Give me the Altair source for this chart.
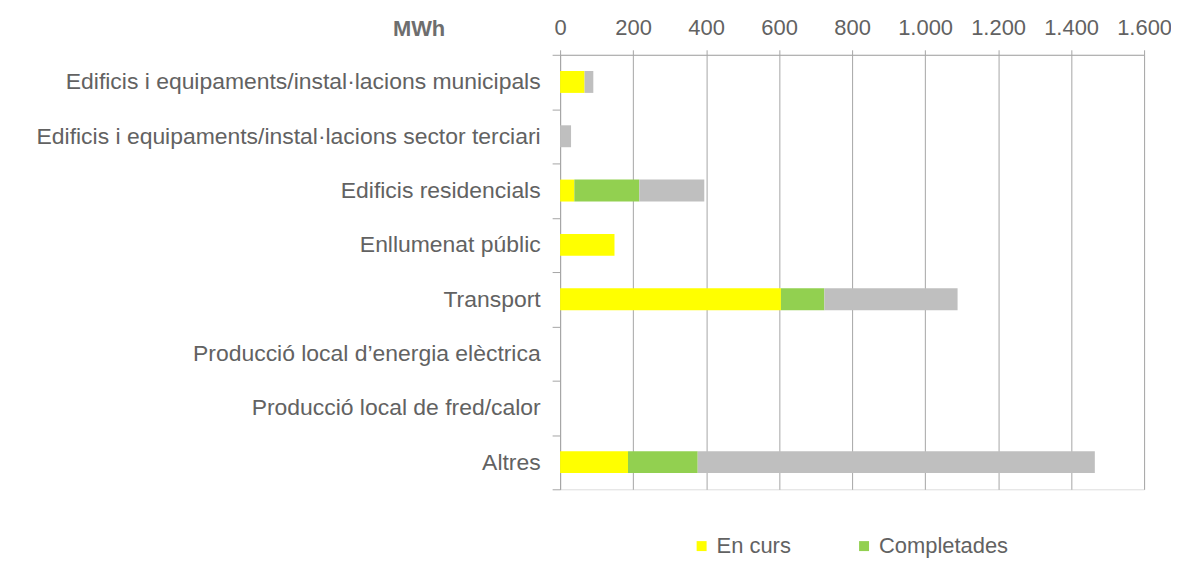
import altair as alt
import pandas as pd

categories = [
    "Edificis i equipaments/instal·lacions municipals",
    "Edificis i equipaments/instal·lacions sector terciari",
    "Edificis residencials",
    "Enllumenat públic",
    "Transport",
    "Producció local d’energia elèctrica",
    "Producció local de fred/calor",
    "Altres",
]
en_curs = [67, 0, 39, 149, 605, 0, 0, 186]
completades = [0, 0, 178, 0, 119, 0, 0, 191]
previstes = [24, 30, 178, 0, 365, 0, 0, 1088]

series = ["En curs", "Completades", "Previstes"]
colors = ["#FFFF00", "#92D050", "#BFBFBF"]

rows = []
for i, c in enumerate(categories):
    for k, (name, vals) in enumerate(zip(series, [en_curs, completades, previstes])):
        rows.append({"cat": c, "serie": name, "ord": k, "val": vals[i]})
df = pd.DataFrame(rows)

FONT = "Liberation Sans"
GRAY = "#626262"
LINE = "#A6A6A6"
FS = 22

chart = (
    alt.Chart(df)
    .mark_bar(size=22)
    .encode(
        y=alt.Y(
            "cat:N",
            sort=categories,
            scale=alt.Scale(paddingInner=0, paddingOuter=0),
            axis=alt.Axis(
                title=None,
                labelFont=FONT,
                labelFontSize=23,
                labelColor=GRAY,
                labelLimit=700,
                labelPadding=12,
                tickSize=8,
                tickBand="extent",
                tickColor=LINE,
                domainColor=LINE,
                grid=False,
            ),
        ),
        x=alt.X(
            "sum(val):Q",
            stack="zero",
            scale=alt.Scale(domain=[0, 1600], nice=False),
            axis=alt.Axis(
                orient="top",
                values=[0, 200, 400, 600, 800, 1000, 1200, 1400, 1600],
                labelExpr="replace(format(datum.value, ','), ',', '.')",
                labelFont=FONT,
                labelFontSize=FS,
                labelColor=GRAY,
                labelPadding=10,
                labelFlush=False,
                tickSize=5,
                tickColor=LINE,
                domainColor=LINE,
                grid=True,
                gridColor=LINE,
                title="MWh",
                titleFont=FONT,
                titleFontSize=FS,
                titleFontWeight="bold",
                titleColor="#6E6E6E",
                titleAngle=0,
                titleAlign="center",
                titleBaseline="middle",
                titleX=-142,
                titleY=-26,
            ),
        ),
        color=alt.Color(
            "serie:N",
            scale=alt.Scale(domain=series, range=colors),
            legend=alt.Legend(
                values=["En curs", "Completades"],
                orient="none",
                direction="horizontal",
                legendX=131,
                legendY=482,
                title=None,
                symbolType="square",
                symbolSize=100,
                symbolStrokeWidth=0,
                labelFont=FONT,
                labelFontSize=FS,
                labelColor=GRAY,
                labelOffset=4,
                columnPadding=62,
            ),
        ),
        order=alt.Order("ord:Q", sort="ascending"),
    )
    .properties(
        width=586,
        height=436,
        autosize=alt.AutoSizeParams(type="none"),
        padding={"left": 554, "top": 46, "right": 27, "bottom": 70},
    )
    .configure_view(stroke=None)
    .configure(background="white")
)

chart.save("out.html", embed_options={"renderer": "svg", "actions": False})
